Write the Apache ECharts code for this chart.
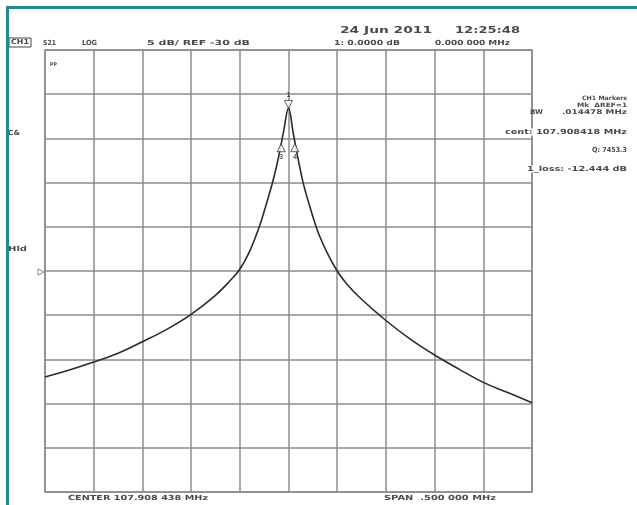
<head>
<meta charset="utf-8">
<title>S21</title>
<script src="https://cdn.jsdelivr.net/npm/echarts@6/dist/echarts.min.js"></script>
</head>
<body style="margin:0;background:#fff">
<div id="main" style="width:637px;height:505px;"></div>
<script>
// offset from center frequency (kHz) and S21 level (dB)
var freqs = [-250, -225, -200, -175, -150, -125, -100, -75, -60, -50, -40, -30, -20, -15, -10, -5, 0,
             5, 10, 15, 20, 30, 40, 50, 60, 75, 100, 125, 150, 175, 200, 225, 250];
var s21 = [-42.0, -41.2, -40.3, -39.3, -38.0, -36.6, -34.9, -32.75, -31.1, -29.8, -27.8, -25.0, -21.4, -19.4, -17.0, -14.2, -11.6,
           -14.5, -17.4, -20.0, -22.0, -25.5, -28.0, -30.0, -31.5, -33.2, -35.6, -37.7, -39.5, -41.1, -42.6, -43.75, -44.9];

// markers
var mkNames = ['1', '2', '3', '4'];
var mkFreq = [0, 0, -7.5, 6.5];
var mkDb = [-11.6, -14.2, -15.6, -15.6];

var ctx = document.createElement('canvas').getContext('2d');
function txt(str, x, y, w, size, extra) {
    var font = 'bold ' + size + 'px "DejaVu Sans"';
    ctx.font = font;
    var m = ctx.measureText(str).width;
    var style = { text: str, font: font, fill: '#4a4a4a', verticalAlign: 'middle' };
    if (extra) Object.assign(style, extra);
    return { type: 'text', x: x, y: y, z: 100, scaleX: w / m, style: style };
}

var myChart = echarts.init(document.getElementById('main'));

var mkData = mkNames.map(function (n, i) {
    var isPeak = n === '1';
    var isText = n === '2';
    return {
        value: [mkFreq[i], mkDb[i]],
        symbol: isText ? 'none' : 'triangle',
        symbolRotate: isPeak ? 180 : 0,
        symbolOffset: isPeak ? [0, -4] : [0, 4],
        label: {
            show: true,
            formatter: n,
            position: isPeak ? 'top' : (isText ? 'inside' : 'bottom'),
            distance: 1,
            fontSize: 7,
            fontWeight: 'bold',
            color: '#333'
        }
    };
});

var option = {
    backgroundColor: '#fff',
    animation: false,
    grid: { left: 45, right: 105, top: 50, bottom: 13, show: true, borderColor: '#888', borderWidth: 1.5 },
    xAxis: {
        type: 'value', min: -250, max: 250, interval: 50,
        axisLine: { show: false }, axisTick: { show: false }, axisLabel: { show: false },
        splitLine: { lineStyle: { color: '#8c8c8c', width: 1.5 } }
    },
    yAxis: {
        type: 'value', min: -55, max: -5, interval: 5,
        axisLine: { show: false }, axisTick: { show: false }, axisLabel: { show: false },
        splitLine: { lineStyle: { color: '#8c8c8c', width: 1.5 } }
    },
    series: [
        {
            type: 'line',
            data: freqs.map(function (f, i) { return [f, s21[i]]; }),
            showSymbol: false,
            smooth: 0.4,
            lineStyle: { color: '#2b2b2b', width: 1.6 },
            z: 3
        },
        {
            type: 'scatter',
            data: mkData,
            symbolSize: [8, 8],
            itemStyle: { color: '#fff', borderColor: '#333', borderWidth: 1 },
            z: 4
        }
    ],
    graphic: [
        { type: 'rect', z: 110, shape: { x: 6, y: 6, width: 631, height: 3 }, style: { fill: '#218a8a' } },
        { type: 'rect', z: 110, shape: { x: 6, y: 6, width: 3, height: 499 }, style: { fill: '#218a8a' } },
        { type: 'rect', z: 100, shape: { x: 9, y: 38, width: 22, height: 9 }, style: { fill: 'none', stroke: '#444', lineWidth: 1 } },
        { type: 'polygon', z: 100, shape: { points: [[38, 269], [38, 275], [44, 272]] }, style: { fill: 'none', stroke: '#888', lineWidth: 1 } },
        txt('CH1', 11, 42.5, 18, 7),
        txt('S21', 43, 43, 13, 7),
        txt('LOG', 82, 43, 15, 7),
        txt('5 dB/ REF -30 dB', 147, 43, 103, 7),
        txt('24 Jun 2011', 340, 31, 92, 9),
        txt('12:25:48', 455, 31, 65, 9),
        txt('1: 0.0000 dB', 334, 43, 66, 7),
        txt('0.000 000 MHz', 435, 43, 75, 7),
        txt('C&', 8, 133, 12, 7),
        txt('Hld', 8, 249, 19, 7),
        txt('PP', 50, 65, 7, 5),
        txt('CH1 Markers', 582, 98, 45, 6),
        txt('Mk  \u0394REF=1', 577, 105, 50, 6),
        txt('BW', 530, 112, 13, 6.5),
        txt('.014478 MHz', 562, 112, 65, 6.5),
        txt('cent: 107.908418 MHz', 505, 132, 122, 7, { backgroundColor: '#fff' }),
        txt('Q: 7453.3', 592, 150, 35, 7),
        txt('1_loss: -12.444 dB', 527, 169, 100, 7, { backgroundColor: '#fff' }),
        txt('CENTER 107.908 438 MHz', 68, 498, 140, 7),
        txt('SPAN  .500 000 MHz', 384, 498, 112, 7)
    ]
};

myChart.setOption(option);
</script>
</body>
